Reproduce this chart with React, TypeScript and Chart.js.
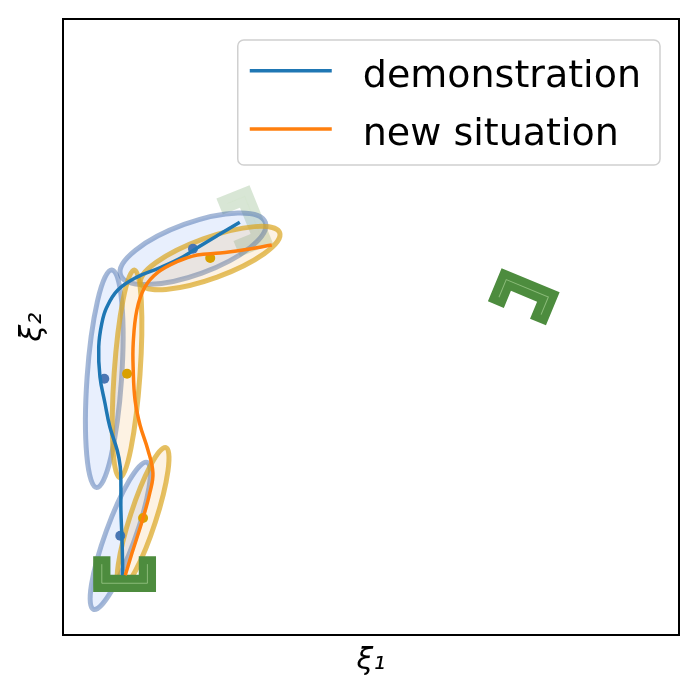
import React, { useEffect, useRef } from "react";
import { Chart, registerables } from "chart.js";

Chart.register(...registerables);

// ---- text ----
const SERIES_LABELS = ["demonstration", "new situation"];
const X_LABEL = "ξ₁";
const Y_LABEL = "ξ₂";

// ---- trajectories ----
const demoX = [0.97, 0.96, 0.94, 0.94, 0.93, 0.88, 0.76, 0.68, 0.6, 0.58, 0.63, 0.71, 0.89, 1.2, 1.57, 1.95, 2.22, 2.5, 2.87];
const demoY = [0.97, 1.49, 2.03, 2.4, 2.73, 3.0, 3.38, 3.77, 4.19, 4.68, 5.06, 5.32, 5.6, 5.81, 5.96, 6.14, 6.31, 6.48, 6.7];
const newX = [1.01, 1.12, 1.3, 1.41, 1.46, 1.38, 1.25, 1.17, 1.14, 1.14, 1.2, 1.33, 1.53, 1.85, 2.18, 2.55, 2.92, 3.39];
const newY = [0.97, 1.33, 1.9, 2.31, 2.63, 3.0, 3.41, 3.81, 4.3, 4.74, 5.28, 5.65, 5.88, 6.06, 6.17, 6.2, 6.25, 6.33];

// ---- Gaussian components (means, semi-axes, orientation in degrees) ----
const demoMeanX = [0.93, 0.67, 2.11];
const demoMeanY = [1.61, 4.16, 6.27];
const demoSemiMajor = [1.27, 1.77, 1.25];
const demoSemiMinor = [0.24, 0.28, 0.42];
const demoAngle = [70, 86, 20];

const newMeanX = [1.3, 1.04, 2.39];
const newMeanY = [1.9, 4.24, 6.12];
const newSemiMajor = [1.2, 1.69, 1.2];
const newSemiMinor = [0.21, 0.21, 0.33];
const newAngle = [72, 86, 20];

// ---- frames (centre, orientation in degrees, opacity) ----
const frameX = [2.95, 1.0, 7.48];
const frameY = [6.72, 0.99, 5.49];
const frameAngle = [112, 0, 157.5];
const frameAlpha = [0.22, 1, 1];

const AXIS_MIN = 0;
const AXIS_MAX = 10;

function pts(xs: number[], ys: number[]) {
  return xs.map((x, i) => ({ x, y: ys[i] }));
}

const BLUE = "#1f77b4";
const ORANGE = "#ff7f0e";

const shapesPlugin = {
  id: "gmmShapes",
  beforeDatasetsDraw(chart: any) {
    const { ctx } = chart;
    const xs = chart.scales.x;
    const ys = chart.scales.y;
    const k = xs.getPixelForValue(1) - xs.getPixelForValue(0);
    const ca = chart.chartArea;
    ctx.save();
    ctx.beginPath();
    ctx.rect(ca.left, ca.top, ca.right - ca.left, ca.bottom - ca.top);
    ctx.clip();

    const drawFrame = (i: number) => {
      const W = 1.02 * k;
      const H = 0.58 * k;
      const T = 0.28 * k;
      ctx.save();
      ctx.globalAlpha = frameAlpha[i];
      ctx.translate(xs.getPixelForValue(frameX[i]), ys.getPixelForValue(frameY[i]));
      ctx.rotate((-frameAngle[i] * Math.PI) / 180);
      ctx.beginPath();
      ctx.moveTo(-W / 2, -H / 2);
      ctx.lineTo(-W / 2 + T, -H / 2);
      ctx.lineTo(-W / 2 + T, H / 2 - T);
      ctx.lineTo(W / 2 - T, H / 2 - T);
      ctx.lineTo(W / 2 - T, -H / 2);
      ctx.lineTo(W / 2, -H / 2);
      ctx.lineTo(W / 2, H / 2);
      ctx.lineTo(-W / 2, H / 2);
      ctx.closePath();
      ctx.fillStyle = "#4d8c3e";
      ctx.fill();
      ctx.beginPath();
      ctx.moveTo(-W / 2 + T / 2, -H / 2 + 0.13 * k);
      ctx.lineTo(-W / 2 + T / 2, H / 2 - T / 2);
      ctx.lineTo(W / 2 - T / 2, H / 2 - T / 2);
      ctx.lineTo(W / 2 - T / 2, -H / 2 + 0.13 * k);
      ctx.strokeStyle = "rgba(190,225,170,0.55)";
      ctx.lineWidth = 1;
      ctx.stroke();
      ctx.restore();
    };

    const drawEllipse = (cx: number, cy: number, a: number, b: number, ang: number, fill: string, edge: string) => {
      ctx.beginPath();
      ctx.ellipse(xs.getPixelForValue(cx), ys.getPixelForValue(cy), a * k, b * k, (-ang * Math.PI) / 180, 0, Math.PI * 2);
      ctx.fillStyle = fill;
      ctx.fill();
      ctx.strokeStyle = edge;
      ctx.lineWidth = 5;
      ctx.stroke();
    };

    // faded frame underneath
    drawFrame(0);
    for (let i = 0; i < demoMeanX.length; i++) {
      drawEllipse(demoMeanX[i], demoMeanY[i], demoSemiMajor[i], demoSemiMinor[i], demoAngle[i], "rgba(100,150,240,0.15)", "rgba(76,114,176,0.5)");
    }
    for (let i = 0; i < newMeanX.length; i++) {
      drawEllipse(newMeanX[i], newMeanY[i], newSemiMajor[i], newSemiMinor[i], newAngle[i], "rgba(240,160,60,0.14)", "rgba(218,165,32,0.7)");
    }
    drawFrame(1);
    drawFrame(2);
    ctx.restore();
  },
  afterDraw(chart: any) {
    const { ctx } = chart;
    const ca = chart.chartArea;
    ctx.save();
    // axes box
    ctx.strokeStyle = "#000";
    ctx.lineWidth = 2;
    ctx.strokeRect(ca.left, ca.top, ca.right - ca.left, ca.bottom - ca.top);

    // legend
    ctx.font = '38px "DejaVu Sans"';
    const colors = [BLUE, ORANGE];
    let tw = 0;
    SERIES_LABELS.forEach((l) => (tw = Math.max(tw, ctx.measureText(l).width)));
    const padL = 12, lineLen = 82, gap = 31, padR = 19;
    const boxW = padL + lineLen + gap + tw + padR;
    const boxH = 125;
    const right = ca.right - 19;
    const top = ca.top + 21;
    const left = right - boxW;
    ctx.beginPath();
    ctx.roundRect(left, top, boxW, boxH, 6);
    ctx.fillStyle = "rgba(255,255,255,0.8)";
    ctx.fill();
    ctx.strokeStyle = "#d0d0d0";
    ctx.lineWidth = 1.5;
    ctx.stroke();
    SERIES_LABELS.forEach((l, i) => {
      const yRow = top + 30.7 + i * 58.3;
      ctx.beginPath();
      ctx.moveTo(left + padL, yRow);
      ctx.lineTo(left + padL + lineLen, yRow);
      ctx.strokeStyle = colors[i];
      ctx.lineWidth = 3.5;
      ctx.stroke();
      ctx.fillStyle = "#000";
      ctx.textBaseline = "alphabetic";
      ctx.textAlign = "left";
      ctx.fillText(l, left + padL + lineLen + gap, yRow + 16);
    });
    ctx.restore();
  },
};

export default function App() {
  const ref = useRef<HTMLCanvasElement>(null);
  useEffect(() => {
    if (!ref.current) return;
    const chart = new Chart(ref.current, {
      type: "scatter",
      data: {
        datasets: [
          {
            label: SERIES_LABELS[0],
            data: pts(demoX, demoY),
            showLine: true,
            borderColor: BLUE,
            backgroundColor: BLUE,
            borderWidth: 3.5,
            pointRadius: 0,
            tension: 0.4,
            order: 1,
          },
          {
            label: SERIES_LABELS[1],
            data: pts(newX, newY),
            showLine: true,
            borderColor: ORANGE,
            backgroundColor: ORANGE,
            borderWidth: 3.5,
            pointRadius: 0,
            tension: 0.4,
            order: 0,
          },
          {
            label: "demonstration means",
            data: pts(demoMeanX, demoMeanY),
            showLine: false,
            pointRadius: 5,
            pointBorderWidth: 0,
            backgroundColor: "#4a76b3",
            borderColor: "#4a76b3",
            order: 2,
          },
          {
            label: "new situation means",
            data: pts(newMeanX, newMeanY),
            showLine: false,
            pointRadius: 5,
            pointBorderWidth: 0,
            backgroundColor: "#d9a000",
            borderColor: "#d9a000",
            order: 2,
          },
        ],
      },
      options: {
        animation: false,
        responsive: false,
        devicePixelRatio: 1,
        events: [],
        layout: { padding: { top: 19, right: 20, bottom: 0, left: 0 } },
        plugins: { legend: { display: false }, tooltip: { enabled: false } },
        scales: {
          x: {
            type: "linear",
            min: AXIS_MIN,
            max: AXIS_MAX,
            ticks: { display: false },
            grid: { display: false, drawTicks: false },
            border: { display: false },
            title: {
              display: true,
              text: X_LABEL,
              color: "#000",
              font: { family: '"DejaVu Sans"', size: 30, style: "italic" },
              padding: { top: 8, bottom: 20 },
            },
          },
          y: {
            type: "linear",
            min: AXIS_MIN,
            max: AXIS_MAX,
            ticks: { display: false },
            grid: { display: false, drawTicks: false },
            border: { display: false },
            title: {
              display: true,
              text: Y_LABEL,
              color: "#000",
              font: { family: '"DejaVu Sans"', size: 30, style: "italic" },
              padding: { top: 15, bottom: 12 },
            },
          },
        },
      },
      plugins: [shapesPlugin],
    });
    return () => chart.destroy();
  }, []);
  return (
    <div style={{ position: "fixed", left: 0, top: 0, width: 699, height: 699, background: "#fff" }}>
      <canvas ref={ref} width={699} height={699} />
    </div>
  );
}
